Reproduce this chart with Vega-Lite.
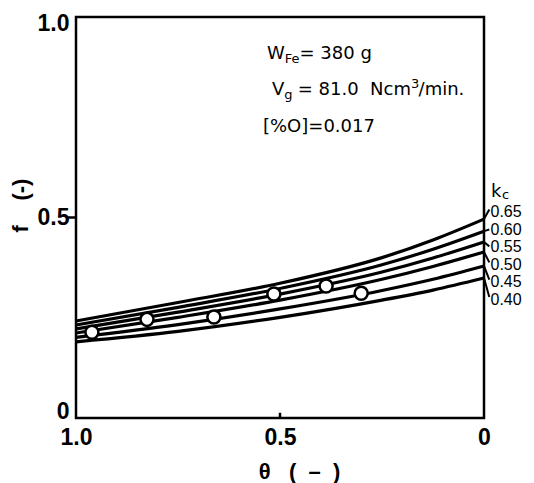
{
  "$schema": "https://vega.github.io/schema/vega-lite/v6.json",
  "width": 408,
  "height": 401,
  "autosize": {"type": "none"},
  "padding": {"left": 76, "top": 17, "right": 50, "bottom": 65},
  "background": "white",
  "config": {
    "view": {"stroke": "#000", "strokeWidth": 2.5},
    "font": "DejaVu Sans",
    "axis": {"labelColor": "#000", "titleColor": "#000", "grid": false, "domain": false, "ticks": false, "titleFontWeight": "bold", "labelFontWeight": "bold", "labelFont": "Liberation Sans", "titleFont": "Liberation Sans"}
  },
  "datasets": {
    "curves": [
      {"k": "0.65", "theta": 1, "f": 0.242}, {"k": "0.65", "theta": 0.75, "f": 0.288}, {"k": "0.65", "theta": 0.5, "f": 0.336}, {"k": "0.65", "theta": 0.25, "f": 0.4}, {"k": "0.65", "theta": 0.125, "f": 0.444}, {"k": "0.65", "theta": 0, "f": 0.496},
      {"k": "0.60", "theta": 1, "f": 0.232}, {"k": "0.60", "theta": 0.75, "f": 0.276}, {"k": "0.60", "theta": 0.5, "f": 0.323}, {"k": "0.60", "theta": 0.25, "f": 0.382}, {"k": "0.60", "theta": 0.125, "f": 0.421}, {"k": "0.60", "theta": 0, "f": 0.466},
      {"k": "0.55", "theta": 1, "f": 0.222}, {"k": "0.55", "theta": 0.75, "f": 0.264}, {"k": "0.55", "theta": 0.5, "f": 0.309}, {"k": "0.55", "theta": 0.25, "f": 0.364}, {"k": "0.55", "theta": 0.125, "f": 0.399}, {"k": "0.55", "theta": 0, "f": 0.439},
      {"k": "0.50", "theta": 1, "f": 0.212}, {"k": "0.50", "theta": 0.75, "f": 0.251}, {"k": "0.50", "theta": 0.5, "f": 0.294}, {"k": "0.50", "theta": 0.25, "f": 0.346}, {"k": "0.50", "theta": 0.125, "f": 0.378}, {"k": "0.50", "theta": 0, "f": 0.414},
      {"k": "0.45", "theta": 1, "f": 0.201}, {"k": "0.45", "theta": 0.75, "f": 0.233}, {"k": "0.45", "theta": 0.5, "f": 0.272}, {"k": "0.45", "theta": 0.25, "f": 0.318}, {"k": "0.45", "theta": 0.125, "f": 0.346}, {"k": "0.45", "theta": 0, "f": 0.379},
      {"k": "0.40", "theta": 1, "f": 0.19}, {"k": "0.40", "theta": 0.75, "f": 0.216}, {"k": "0.40", "theta": 0.5, "f": 0.251}, {"k": "0.40", "theta": 0.25, "f": 0.294}, {"k": "0.40", "theta": 0.125, "f": 0.319}, {"k": "0.40", "theta": 0, "f": 0.349}
    ],
    "points": [
      {"theta": 0.961, "f": 0.214}, {"theta": 0.826, "f": 0.246}, {"theta": 0.662, "f": 0.252},
      {"theta": 0.515, "f": 0.309}, {"theta": 0.387, "f": 0.329}, {"theta": 0.301, "f": 0.311}
    ],
    "labels": [
      {"k": "0.65", "fend": 0.496, "flead": 0.52, "flab": 0.5137},
      {"k": "0.60", "fend": 0.466, "flead": 0.47, "flab": 0.4698},
      {"k": "0.55", "fend": 0.439, "flead": 0.428, "flab": 0.4259},
      {"k": "0.50", "fend": 0.414, "flead": 0.388, "flab": 0.382},
      {"k": "0.45", "fend": 0.379, "flead": 0.345, "flab": 0.3382},
      {"k": "0.40", "fend": 0.349, "flead": 0.302, "flab": 0.2943}
    ],
    "notes": [
      {"t": "W", "theta": 0.5319, "f": 0.8953},
      {"t": "= 380 g", "theta": 0.4522, "f": 0.8953},
      {"t": "V", "theta": 0.5196, "f": 0.8055},
      {"t": "= 81.0\u00a0\u00a0Ncm", "theta": 0.4566, "f": 0.8055},
      {"t": "/min.", "theta": 0.1603, "f": 0.8055},
      {"t": "[%O]=0.017", "theta": 0.5417, "f": 0.7132},
      {"t": "k", "theta": -0.0172, "f": 0.5511}
    ],
    "subs": [
      {"t": "Fe", "theta": 0.4882, "f": 0.8853},
      {"t": "g", "theta": 0.4895, "f": 0.7955},
      {"t": "3", "theta": 0.1789, "f": 0.8229},
      {"t": "c", "theta": -0.0441, "f": 0.546}
    ]
  },
  "layer": [
    {
      "data": {"name": "curves"},
      "mark": {"type": "line", "color": "#000", "strokeWidth": 3.2, "interpolate": "monotone"},
      "encoding": {
        "x": {
          "field": "theta", "type": "quantitative",
          "scale": {"domain": [0, 1], "reverse": true, "nice": false, "zero": false},
          "axis": {"values": [1, 0.5, 0], "labelExpr": "datum.value == 0 ? '0' : format(datum.value, '.1f')", "title": "θ\u00a0\u00a0\u00a0(\u00a0\u00a0–\u00a0\u00a0)", "labelFontSize": 23, "labelPadding": 8, "labelFlush": false, "titleFontSize": 22, "titleX": 223, "titleY": 53, "titleBaseline": "middle"}
        },
        "y": {
          "field": "f", "type": "quantitative",
          "scale": {"domain": [0, 1], "nice": false},
          "axis": {"values": [0, 0.5, 1], "labelExpr": "datum.value == 0 ? '0' : format(datum.value, '.1f')", "title": "f\u00a0\u00a0\u00a0\u00a0(-)", "labelFontSize": 23, "labelPadding": 7, "labelFlush": true, "labelFlushOffset": 5, "titleFontSize": 22, "titleAngle": 270, "titleX": -56, "titleY": 188, "titleBaseline": "middle", "titleAlign": "center"}
        },
        "detail": {"field": "k", "type": "nominal"}
      }
    },
    {
      "data": {"name": "points"},
      "mark": {"type": "point", "shape": "circle", "filled": false, "fill": "white", "fillOpacity": 1, "stroke": "#000", "strokeWidth": 2.5, "size": 170, "opacity": 1},
      "encoding": {
        "x": {"field": "theta", "type": "quantitative"},
        "y": {"field": "f", "type": "quantitative"}
      }
    },
    {
      "data": {"name": "labels"},
      "mark": {"type": "rule", "color": "#000", "strokeWidth": 2},
      "encoding": {
        "x": {"datum": 0},
        "x2": {"datum": -0.013},
        "y": {"field": "fend", "type": "quantitative"},
        "y2": {"field": "flead"}
      }
    },
    {
      "data": {"name": "labels"},
      "mark": {"type": "text", "align": "left", "baseline": "middle", "fontSize": 16, "font": "Liberation Sans", "color": "#000"},
      "encoding": {
        "x": {"datum": -0.016},
        "y": {"field": "flab", "type": "quantitative"},
        "text": {"field": "k"}
      }
    },
    {
      "data": {"name": "notes"},
      "mark": {"type": "text", "align": "left", "baseline": "alphabetic", "fontSize": 18, "color": "#000"},
      "encoding": {
        "x": {"field": "theta", "type": "quantitative"},
        "y": {"field": "f", "type": "quantitative"},
        "text": {"field": "t"}
      }
    },
    {
      "data": {"name": "subs"},
      "mark": {"type": "text", "align": "left", "baseline": "alphabetic", "fontSize": 13, "color": "#000"},
      "encoding": {
        "x": {"field": "theta", "type": "quantitative"},
        "y": {"field": "f", "type": "quantitative"},
        "text": {"field": "t"}
      }
    },
    {
      "data": {"values": [{}]},
      "mark": {"type": "rule", "color": "#000", "strokeWidth": 2.5},
      "encoding": {
        "x": {"datum": 1},
        "x2": {"datum": 1.02},
        "y": {"datum": 0.5}
      }
    },
    {
      "data": {"values": [{}]},
      "mark": {"type": "rule", "color": "#000", "strokeWidth": 2.5},
      "encoding": {
        "x": {"datum": 0.5},
        "y": {"datum": 0},
        "y2": {"datum": 0.013}
      }
    }
  ]
}
